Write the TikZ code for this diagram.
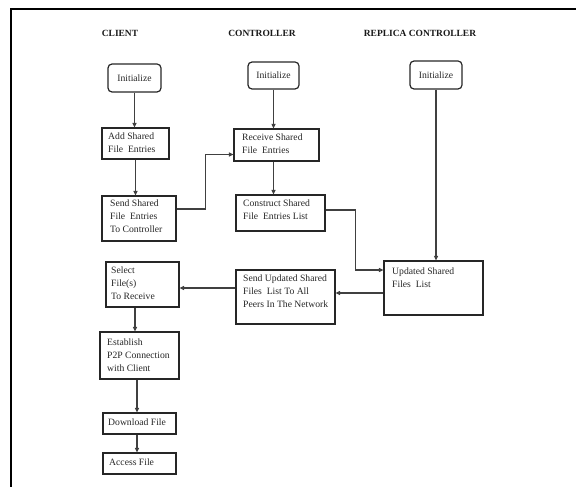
\documentclass[tikz,border=0pt]{standalone}
\usepackage{fontspec}
\setmainfont{Liberation Serif}
\usetikzlibrary{arrows.meta}
\begin{document}
\begin{tikzpicture}[x=1bp, y=-1bp,
  blk/.style={draw=black!85, line width=1.2bp, rectangle, inner sep=0pt},
  rblk/.style={blk, rounded corners=4bp, font=\fontsize{9.7}{13}\selectfont, text=black!85},
  txt/.style={font=\fontsize{9.7}{13}\selectfont, text=black!85, align=left, inner sep=0pt, anchor=north west},
  head/.style={font=\fontsize{9.5}{11}\selectfont\bfseries, text=black!90, inner sep=0pt},
  conn/.style={draw=black!75, line width=1.1bp, -{Triangle[length=4.5bp,width=4bp]}},
  plainline/.style={draw=black!75, line width=1.1bp},
  frame/.style={draw=black, line width=2bp}]
\useasboundingbox (0,0) rectangle (576,487);

% outer frame (top and left edges)
\draw[frame] (576,9.5) -- (11,9.5) -- (11,487);

% column headings
\node[head] (hclient) at (120,33) {CLIENT};
\node[head] (hctrl) at (262,33) {CONTROLLER};
\node[head] (hrep) at (420,33) {REPLICA CONTROLLER};

% start nodes
\node[rblk, minimum width=53bp, minimum height=28bp] (cinit) at (134.5,78) {Initialize};
\node[rblk, minimum width=51bp, minimum height=27bp] (ctrlinit) at (273.5,75.5) {Initialize};
\node[rblk, minimum width=52bp, minimum height=28bp] (rinit) at (436,75) {Initialize};

% client column
\node[blk, minimum width=67bp, minimum height=31bp] (add) at (135.5,143.5) {};
\node[txt] (add-t) at (108,132.7) {Add Shared\\File\ \ Entries};
\node[blk, minimum width=74bp, minimum height=45bp] (sendsh) at (139,218.5) {};
\node[txt] (sendsh-t) at (110,199.7) {Send Shared\\File\ \ Entries\\To Controller};
\node[blk, minimum width=73bp, minimum height=45bp] (select) at (142.5,284.5) {};
\node[txt] (select-t) at (111,266.7) {Select\\File(s)\\To Receive};
\node[blk, minimum width=79bp, minimum height=47bp] (estab) at (139.5,355.5) {};
\node[txt] (estab-t) at (107,338.7) {Establish\\P2P Connection\\with Client};
\node[blk, minimum width=73bp, minimum height=21bp] (download) at (139.5,423.5) {};
\node[txt] (download-t) at (108,418.7) {Download File};
\node[blk, minimum width=73bp, minimum height=21bp] (access) at (139.5,463.5) {};
\node[txt] (access-t) at (109,458.7) {Access File};

% controller column
\node[blk, minimum width=85bp, minimum height=32bp] (recv) at (276.5,145) {};
\node[txt] (recv-t) at (242,133.7) {Receive Shared\\File\ \ Entries};
\node[blk, minimum width=89bp, minimum height=36bp] (constr) at (280.5,213) {};
\node[txt] (constr-t) at (243,199.7) {Construct Shared\\File\ \ Entries List};
\node[blk, minimum width=99bp, minimum height=54bp] (sendupd) at (285.5,297) {};
\node[txt] (sendupd-t) at (243,274.7) {Send Updated Shared\\Files\ \ List To All\\Peers In The Network};

% replica controller column
\node[blk, minimum width=99bp, minimum height=54bp] (upd) at (433.5,288) {};
\node[txt] (upd-t) at (392,267.7) {Updated Shared\\Files\ \ List};

% connectors
\draw[conn] (cinit.south) -- (cinit.south |- add.north);
\draw[conn] (add.south) -- (add.south |- sendsh.north);
\draw[conn] ([yshift=9.5bp]sendsh.east) -- ++(29,0) |- ([yshift=-9.5bp]recv.west);
\draw[conn] (ctrlinit.south) -- (ctrlinit.south |- recv.north);
\draw[conn] (ctrlinit.south |- recv.south) -- (ctrlinit.south |- constr.north);
\draw[conn] ([yshift=3bp]constr.east) -- ++(30,0) |- ([yshift=18bp]upd.west);
\draw[conn] (rinit.south) -- (rinit.south |- upd.north);
\coordinate (ufrom) at ([yshift=-5bp]upd.west);
\draw[conn] (ufrom) -- (ufrom -| sendupd.east);
\coordinate (sfrom) at ([yshift=9bp]sendupd.west);
\draw[conn] (sfrom) -- (sfrom -| select.east);
\coordinate (selout) at ([xshift=-7.5bp]select.south);
\draw[conn] (selout) -- (selout |- estab.north);
\coordinate (estout) at ([xshift=-2.5bp]estab.south);
\draw[conn] (estout) -- (estout |- download.north);
\coordinate (dlout) at ([xshift=-2.5bp]download.south);
\draw[conn] (dlout) -- (dlout |- access.north);
\end{tikzpicture}
\end{document}
